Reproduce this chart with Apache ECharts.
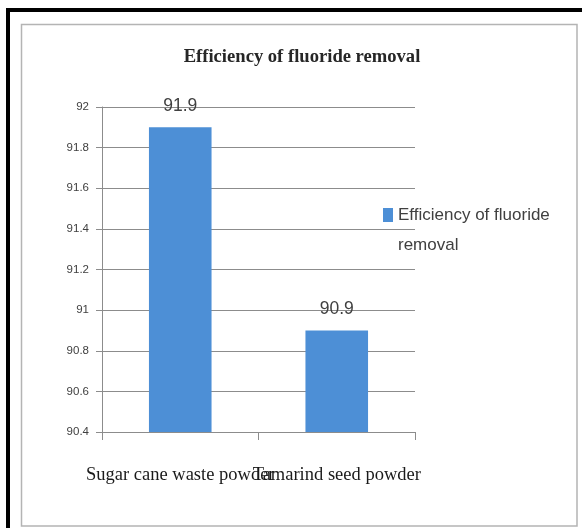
<!DOCTYPE html>
<html>
<head>
<meta charset="utf-8">
<title>Efficiency of fluoride removal</title>
<script src="https://cdn.jsdelivr.net/npm/echarts@6/dist/echarts.min.js"></script>
<style>
  html, body { margin: 0; padding: 0; background: #ffffff; }
  #wrap { position: relative; width: 582px; height: 528px; overflow: hidden; }
  #chart { position: absolute; left: 0; top: 0; width: 582px; height: 528px; }
  #frame {
    position: absolute; left: 6px; top: 8px; width: 600px; height: 600px;
    border-left: 4px solid #000; border-top: 4px solid #000;
    box-sizing: border-box; pointer-events: none;
  }
</style>
</head>
<body>
<div id="wrap">
  <div id="chart"></div>
  <div id="frame"></div>
</div>
<script>
// Chart content
const chartTitle = 'Efficiency of fluoride removal';
const seriesName = 'Efficiency of fluoride removal';
const categories = ['Sugar cane waste powder', 'Tamarind seed powder'];
const efficiency = [91.9, 90.9];
const yMin = 90.4, yMax = 92, yStep = 0.2;

const sans = "'Liberation Sans', Arial, sans-serif";
const serif = "'Liberation Serif', 'DejaVu Serif', serif";

const chart = echarts.init(document.getElementById('chart'), null, { renderer: 'canvas' });

chart.setOption({
  backgroundColor: '#ffffff',
  animation: false,
  title: {
    text: chartTitle,
    left: 297, textAlign: 'center',
    top: 43,
    textStyle: { fontFamily: serif, fontWeight: 'bold', fontSize: 18.6, color: '#262626' }
  },
  legend: {
    orient: 'vertical',
    left: 378, top: 165,
    itemWidth: 10, itemHeight: 14,
    icon: 'rect',
    // leading blank line keeps the swatch level with the first text line
    formatter: () => '\nEfficiency of fluoride\nremoval',
    textStyle: { fontFamily: sans, fontSize: 17, color: '#404040', lineHeight: 30 },
    data: [seriesName]
  },
  grid: { left: 102, right: 167, top: 107, bottom: 96, containLabel: false },
  xAxis: {
    type: 'category',
    data: categories,
    axisLine: { lineStyle: { color: '#8c8c8c', width: 1 } },
    axisTick: { show: true, length: 8, alignWithLabel: false, lineStyle: { color: '#8c8c8c' } },
    axisLabel: {
      interval: 0, hideOverlap: false, margin: 34,
      fontFamily: serif, fontSize: 18.5, color: '#1a1a1a'
    }
  },
  yAxis: {
    type: 'value',
    min: yMin, max: yMax, interval: yStep,
    axisLine: { show: true, lineStyle: { color: '#8c8c8c', width: 1 } },
    axisTick: { show: true, length: 6, inside: false, lineStyle: { color: '#8c8c8c' } },
    splitLine: { show: true, lineStyle: { color: '#8c8c8c', width: 1 } },
    axisLabel: {
      margin: 13,
      fontFamily: sans, fontSize: 11.5, color: '#404040',
      formatter: v => String(+v.toFixed(1))
    }
  },
  series: [{
    name: seriesName,
    type: 'bar',
    data: efficiency,
    barWidth: '40%',
    itemStyle: { color: '#4d8fd6' },
    label: {
      show: true, position: 'top', distance: 12,
      fontFamily: sans, fontSize: 17.5, color: '#404040',
      formatter: p => p.value.toFixed(1)
    }
  }],
  graphic: [{
    type: 'rect',
    shape: { x: 21.5, y: 24.5, width: 555.5, height: 501.5 },
    style: { fill: null, stroke: '#b4b4b4', lineWidth: 1.5 },
    silent: true, z: -1
  }]
});
</script>
</body>
</html>
